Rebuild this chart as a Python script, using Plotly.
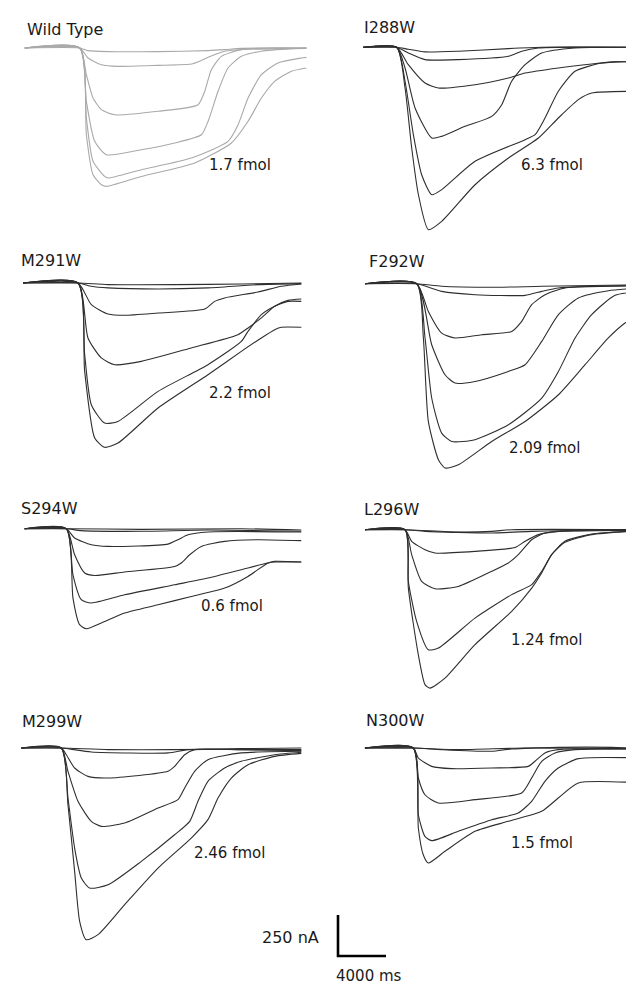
import plotly.graph_objects as go

# ---------------- data (time in ms from agonist onset, current in nA) ----------------
PANEL_NAMES = ["Wild Type", "I288W", "M291W", "F292W", "S294W", "L296W", "M299W", "N300W"]
PANEL_AMOUNTS = ["1.7 fmol", "6.3 fmol", "2.2 fmol", "2.09 fmol", "0.6 fmol", "1.24 fmol", "2.46 fmol", "1.5 fmol"]

WILD_TYPE = [
    ([-4580, 0, 690, 2360, 6530, 10700, 12080, 13470, 18890],
     [0, 0, -16, -22, -22, -16, -10, -2, 0]),
    ([-4580, 0, 695, 1810, 3190, 6530, 9310, 10000, 10700, 12080, 14030, 18890],
     [0, 0, -61, -102, -112, -106, -98, -81, -57, -20, -8, -2]),
    ([-4580, 0, 556, 1110, 1810, 2920, 6530, 9860, 10420, 10970, 11810, 13470, 15700, 18890],
     [0, 0, -163, -305, -376, -407, -386, -346, -264, -132, -51, -10, 0, 0]),
    ([-4580, 0, 556, 1250, 2220, 5140, 7920, 10140, 10700, 11530, 12360, 13470, 15140, 17640, 18890],
     [0, 0, -325, -569, -651, -620, -579, -529, -447, -264, -122, -51, -20, -4, 0]),
    ([-4580, 0, 556, 1110, 2080, 2360, 5140, 9310, 12360, 13200, 14030, 15140, 16530, 18470, 18890],
     [0, 0, -427, -691, -783, -793, -742, -671, -569, -468, -305, -163, -91, -61, -57]),
    ([-4580, 0, 556, 1110, 1810, 2220, 5140, 9580, 12640, 14030, 15140, 16250, 17640, 18890],
     [0, 0, -529, -773, -834, -844, -783, -701, -579, -447, -305, -203, -142, -122]),
]

I288W = [
    ([-2780, 0, 970, 2360, 5140, 9310, 12080, 20420],
     [0, 0, -12, -28, -24, -8, 0, 0]),
    ([-2780, 0, 970, 2360, 5140, 9310, 10420, 11810, 20420],
     [0, 0, -35, -75, -75, -55, -24, -4, 0]),
    ([-2780, 0, 970, 2360, 3470, 6530, 9310, 10700, 13470, 16250, 18200, 20420],
     [0, 0, -106, -218, -248, -228, -187, -157, -126, -102, -89, -89]),
    ([-2780, 0, 695, 1530, 2920, 3750, 5690, 7920, 8750, 9580, 10700, 12080, 14860, 20420],
     [0, 0, -126, -370, -553, -543, -482, -421, -350, -207, -106, -35, -4, 0]),
    ([-2780, 0, 695, 1390, 2080, 2920, 3750, 6530, 10700, 11530, 12360, 13470, 14860, 17080, 18200, 20420],
     [0, 0, -207, -533, -777, -899, -868, -695, -563, -533, -431, -268, -146, -96, -89, -89]),
    ([-2780, 0, 695, 1250, 1810, 2640, 3750, 6530, 9310, 11810, 13470, 15140, 16250, 20420],
     [0, 0, -248, -614, -899, -1112, -1061, -838, -675, -553, -431, -319, -279, -268]),
]

M291W = [
    ([-4580, 0, 2500, 8060, 13610, 18610],
     [0, 0, -10, -10, -6, 0]),
    ([-4580, 0, 1110, 2500, 6670, 10830, 15000, 18610],
     [0, 0, -20, -30, -37, -30, -10, -4]),
    ([-4580, 0, 1110, 2500, 3890, 6670, 10560, 11390, 12220, 15000, 16950, 18610],
     [0, 0, -132, -189, -197, -183, -159, -112, -91, -55, -20, -6]),
    ([-4580, 0, 830, 1940, 3060, 5280, 9440, 13330, 14170, 15280, 16390, 17500, 18610],
     [0, 0, -335, -457, -498, -478, -396, -315, -274, -213, -142, -106, -98]),
    ([-4580, 0, 556, 1110, 2220, 3330, 6670, 10830, 13610, 14170, 15280, 16390, 17500, 18610],
     [0, 0, -437, -742, -854, -844, -661, -498, -356, -295, -193, -142, -112, -112]),
    ([-4580, 0, 556, 1390, 2220, 3330, 6670, 10830, 13610, 15280, 16390, 16950, 18610],
     [0, 0, -539, -945, -1002, -976, -762, -559, -417, -335, -285, -270, -270]),
]

F292W = [
    ([-4310, 0, 2080, 6250, 10420, 18750],
     [0, 0, -16, -22, -16, -6]),
    ([-4310, 0, 2080, 4860, 9030, 10420, 11810, 18750],
     [0, 0, -47, -67, -71, -47, -26, -12]),
    ([-4310, 0, 970, 2080, 3190, 5420, 7920, 8750, 9580, 10700, 12360, 18750],
     [0, 0, -169, -301, -331, -311, -291, -230, -128, -67, -26, -12]),
    ([-4310, 0, 1250, 2360, 3190, 4860, 7640, 9030, 10420, 11810, 13470, 15970, 18750],
     [0, 0, -372, -555, -606, -596, -535, -494, -352, -189, -87, -43, -26]),
    ([-4310, 0, 695, 1250, 2080, 2920, 4860, 7640, 10420, 11810, 13200, 14580, 16530, 18750],
     [0, 0, -331, -697, -911, -962, -951, -860, -697, -535, -331, -189, -71, -47]),
    ([-4310, 0, 556, 970, 1810, 2360, 3470, 6250, 9030, 11810, 14030, 15970, 17360, 18750],
     [0, 0, -331, -840, -1073, -1124, -1104, -962, -840, -677, -494, -331, -240, -179]),
]

S294W = [
    ([-3470, 0, 6250, 14580, 19580],
     [0, 0, -4, 0, -8]),
    ([-3470, 0, 1250, 6250, 11810, 19580],
     [0, 0, -12, -16, -8, -16]),
    ([-3470, 0, 695, 2080, 3470, 8470, 9310, 10140, 11810, 19580],
     [0, 0, -57, -98, -108, -94, -67, -37, -20, -20]),
    ([-3470, 0, 695, 1530, 2360, 4860, 9030, 9580, 10280, 11250, 13200, 15970, 19580],
     [0, 0, -159, -270, -285, -264, -230, -209, -159, -108, -77, -67, -73]),
    ([-3470, 0, 556, 1250, 2080, 4860, 9030, 11810, 14580, 16810, 17360, 19580],
     [0, 0, -281, -433, -453, -403, -342, -301, -250, -209, -203, -203]),
    ([-3470, 0, 556, 1110, 1670, 2920, 4860, 7640, 10420, 13200, 15140, 16810, 17360, 19580],
     [0, 0, -423, -585, -610, -575, -514, -464, -413, -362, -291, -209, -199, -203]),
]

L296W = [
    ([-3330, 0, 4440, 7220, 8890, 19720],
     [0, 0, -14, -10, 0, 0]),
    ([-3330, 0, 1670, 7220, 10560, 12780, 19720],
     [0, 0, -10, -20, -10, -6, -2]),
    ([-3330, 0, 556, 1670, 2500, 5830, 9170, 10000, 11110, 12780, 19720],
     [0, 0, -71, -122, -142, -132, -108, -71, -30, -10, -4]),
    ([-3330, 0, 556, 1390, 2500, 4440, 7220, 8610, 9440, 10560, 11670, 14170, 19720],
     [0, 0, -152, -315, -360, -346, -254, -203, -152, -61, -20, -6, -2]),
    ([-3330, 0, 280, 970, 1940, 2780, 5830, 8890, 10560, 11390, 12220, 13330, 15560, 19720],
     [0, 0, -315, -559, -732, -722, -539, -396, -335, -254, -152, -71, -26, -4]),
    ([-3330, 0, 280, 1110, 1670, 2080, 3330, 5830, 8890, 10560, 11390, 12220, 13330, 15560, 19720],
     [0, 0, -356, -762, -945, -966, -905, -701, -498, -356, -264, -152, -77, -30, -6]),
]

M299W = [
    ([-3330, 0, 3890, 9440, 15000, 20000],
     [0, 0, -10, -10, -4, 0]),
    ([-3330, 0, 2500, 8890, 10560, 15000, 20000],
     [0, 0, -24, -30, -10, -10, -10]),
    ([-3330, 0, 420, 1110, 2220, 3890, 8890, 9440, 10280, 11110, 15000, 20000],
     [0, 0, -41, -122, -173, -183, -142, -112, -41, -10, -10, -16]),
    ([-3330, 0, 556, 1390, 2500, 3330, 5280, 8060, 9720, 10280, 11110, 12220, 15000, 20000],
     [0, 0, -142, -325, -447, -478, -457, -366, -315, -244, -142, -71, -30, -20]),
    ([-3330, 0, 556, 1110, 1670, 2360, 3890, 6670, 9440, 10700, 11390, 12220, 13610, 15000, 17780, 20000],
     [0, 0, -305, -610, -793, -854, -834, -691, -529, -447, -325, -203, -122, -81, -41, -26]),
    ([-3330, 0, 556, 1110, 1530, 2080, 3060, 5280, 8060, 10830, 12220, 13060, 14170, 15560, 17780, 20000],
     [0, 0, -346, -752, -1057, -1169, -1138, -955, -732, -549, -437, -305, -183, -102, -51, -33]),
]

N300W = [
    ([-4030, 0, 3750, 9310, 19030],
     [0, 0, -10, 0, -4]),
    ([-4030, 0, 2360, 6530, 8190, 12080, 16530, 19030],
     [0, 0, -10, -20, -6, 4, 4, -4]),
    ([-4030, 0, 420, 1530, 3190, 6530, 9580, 10140, 10970, 12080, 19030],
     [0, 0, -61, -112, -126, -122, -112, -81, -30, -10, -6]),
    ([-4030, 0, 420, 970, 2080, 5140, 9030, 9860, 10700, 11810, 13470, 19030],
     [0, 0, -183, -285, -335, -315, -274, -183, -81, -30, -10, -6]),
    ([-4030, 0, 420, 970, 1530, 3750, 6530, 8750, 9860, 10970, 12080, 13750, 19030],
     [0, 0, -407, -539, -565, -508, -437, -396, -325, -203, -122, -65, -61]),
    ([-4030, 0, 420, 830, 1250, 2640, 5140, 7920, 10700, 12080, 13750, 19030],
     [0, 0, -488, -651, -701, -630, -508, -447, -386, -305, -213, -213]),
]

SCALE_TIME = [0, 0, 4000]      # ms
SCALE_CURRENT = [250, 0, 0]    # nA
SCALE_LABELS = ["250 nA", "4000 ms"]

PANELS = [WILD_TYPE, I288W, M291W, F292W, S294W, L296W, M299W, N300W]

# ---------------- layout geometry (pixels) ----------------
W, H = 634, 988
MS_PER_PX = 4000 / 48
NA_PER_PX = 250 / 41

COLS = [(0, 317), (317, 634)]
ROWS = [(0, 230), (230, 482), (482, 690), (690, 988)]
# onset x pixel and baseline y pixel for each panel
ORIGINS = [(71.7, 40), (388.7, 39.3), (70, 275), (408.7, 275.7),
           (58.3, 520.7), (397, 521.7), (53.3, 740), (405.3, 740)]
TITLE_POS = [(17, 21), (354, 20), (11, 252), (359, 253),
             (11, 500), (354, 502), (12, 713), (356, 712)]
AMOUNT_POS = [(199, 157), (511, 157), (199, 385), (499, 440),
              (191, 598), (501, 632), (184, 845), (501, 835)]

FONT = "DejaVu Sans"
TXT = "#1a1a1a"

fig = go.Figure()
layout = dict(width=W, height=H, autosize=False, margin=dict(l=0, r=0, t=0, b=0),
              paper_bgcolor="white", plot_bgcolor="rgba(0,0,0,0)", showlegend=False)
annotations = []


def axis_pair(n, x0, x1, y0, y1, ox, oy):
    key = "" if n == 1 else str(n)
    xa = dict(domain=[x0 / W, x1 / W], range=[(x0 - ox) * MS_PER_PX, (x1 - ox) * MS_PER_PX],
              visible=False, fixedrange=True, anchor="y" + key)
    ya = dict(domain=[1 - y1 / H, 1 - y0 / H], range=[-(y1 - oy) * NA_PER_PX, (oy - y0) * NA_PER_PX],
              visible=False, fixedrange=True, anchor="x" + key)
    layout["xaxis" + key] = xa
    layout["yaxis" + key] = ya
    return ("x" + key, "y" + key)


for p, traces in enumerate(PANELS):
    r, c = divmod(p, 2)
    x0, x1 = COLS[c]
    y0, y1 = ROWS[r]
    ox, oy = ORIGINS[p]
    xr, yr = axis_pair(p + 1, x0, x1, y0, y1, ox, oy)
    color = "#a9a9a9" if p == 0 else "#2e2e2e"
    for t, i in traces:
        fig.add_trace(go.Scatter(x=t, y=i, mode="lines", xaxis=xr, yaxis=yr,
                                 line=dict(color=color, width=1.1, shape="spline", smoothing=0.6),
                                 hoverinfo="skip"))
    tx, ty = TITLE_POS[p]
    annotations.append(dict(text=PANEL_NAMES[p], x=tx / W, y=1 - ty / H, xref="paper", yref="paper",
                            xanchor="left", yanchor="middle", showarrow=False,
                            font=dict(family=FONT, size=16, color=TXT)))
    ax_, ay_ = AMOUNT_POS[p]
    annotations.append(dict(text=PANEL_AMOUNTS[p], x=ax_ / W, y=1 - ay_ / H, xref="paper", yref="paper",
                            xanchor="left", yanchor="middle", showarrow=False,
                            font=dict(family=FONT, size=15, color=TXT)))

# scale bar axes (same ms/nA scale), corner at pixel (330, 948)
sx, sy = axis_pair(9, 317, 634, 690, 988, 330, 948)
fig.add_trace(go.Scatter(x=SCALE_TIME, y=SCALE_CURRENT, mode="lines", xaxis=sx, yaxis=sy,
                         line=dict(color="black", width=2.6), hoverinfo="skip"))
annotations.append(dict(text=SCALE_LABELS[0], x=313 / W, y=1 - 929 / H, xref="paper", yref="paper",
                        xanchor="right", yanchor="middle", showarrow=False,
                        font=dict(family=FONT, size=16, color=TXT)))
annotations.append(dict(text=SCALE_LABELS[1], x=326 / W, y=1 - 968 / H, xref="paper", yref="paper",
                        xanchor="left", yanchor="middle", showarrow=False,
                        font=dict(family=FONT, size=15, color=TXT)))

layout["annotations"] = annotations
fig.update_layout(**layout)
fig.write_html("out.html")
